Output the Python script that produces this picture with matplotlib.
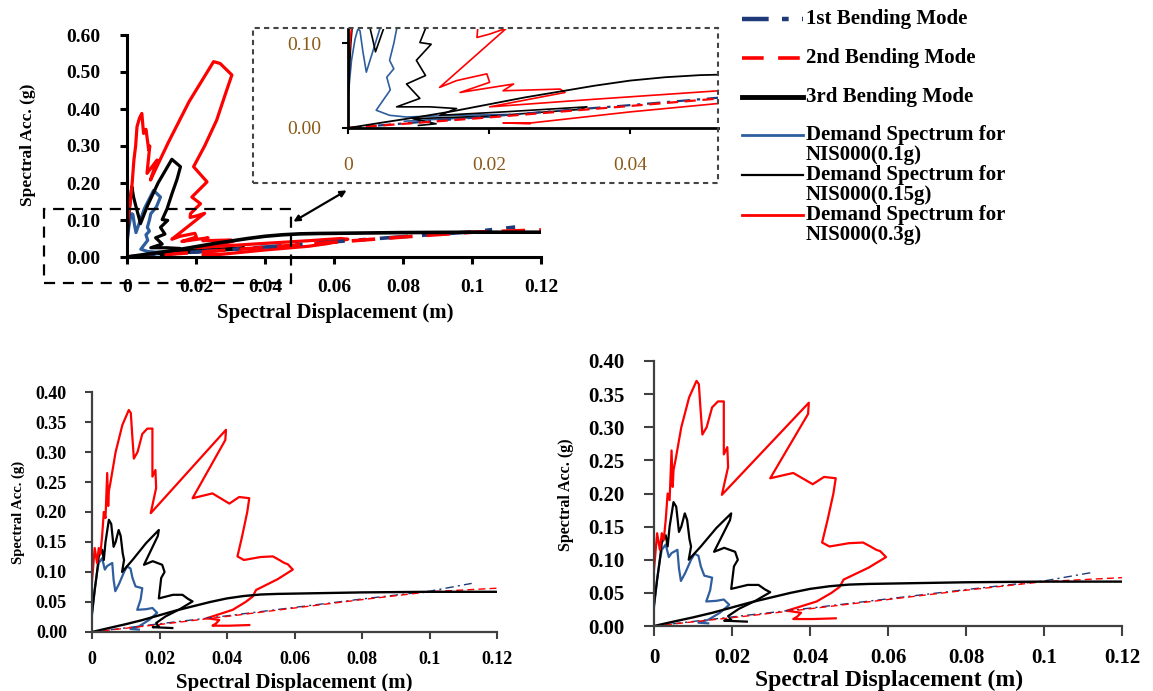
import matplotlib
matplotlib.use('Agg')
import matplotlib.pyplot as plt
from matplotlib.patches import Rectangle, FancyArrowPatch
from matplotlib.lines import Line2D

# ---------------- data ----------------
# capacity curves (bending modes), shared by all panels
mode1_sd = [0, 0.02, 0.04, 0.06, 0.08, 0.10, 0.1125]
mode1_sa = [0, 0.0137, 0.027, 0.041, 0.055, 0.068, 0.081]
mode2_sd = [0, 0.02, 0.04, 0.06, 0.08, 0.10, 0.12]
mode2_sa = [0, 0.0125, 0.026, 0.040, 0.054, 0.067, 0.073]
mode3_sd = [0, 0.005, 0.01, 0.015, 0.02, 0.025, 0.03, 0.035, 0.04, 0.045, 0.05, 0.055,
            0.06, 0.08, 0.10, 0.12]
mode3_sa = [0, 0.0066, 0.013, 0.020, 0.028, 0.036, 0.043, 0.050, 0.056, 0.060, 0.0625,
            0.0635, 0.064, 0.066, 0.067, 0.067]

# top panel demand spectra
top_red_sd = [0, 0.0005, 0.001, 0.0015, 0.002, 0.0025, 0.0029, 0.0036, 0.0043, 0.0048,
              0.0055, 0.0063, 0.0066, 0.0058, 0.0087, 0.0068, 0.012, 0.018, 0.0251, 0.027,
              0.0304, 0.0285, 0.026, 0.0225, 0.0193, 0.0232, 0.0188, 0.0213, 0.0184, 0.0183,
              0.0201, 0.0225, 0.013, 0.0154, 0.0197, 0.0201, 0.0159, 0.0235, 0.022, 0.0301,
              0.0308, 0.0201, 0.035, 0.0526, 0.062, 0.064, 0.058, 0.0526, 0.04, 0.026,
              0.022, 0.0258]
top_red_sa = [0.072, 0.12, 0.153, 0.20, 0.262, 0.30, 0.352, 0.375, 0.388, 0.334,
              0.345, 0.289, 0.30, 0.226, 0.262, 0.208, 0.31, 0.42, 0.528, 0.523,
              0.492, 0.44, 0.37, 0.30, 0.244, 0.203, 0.162, 0.144, 0.117, 0.107,
              0.111, 0.118, 0.048, 0.056, 0.064, 0.054, 0.042, 0.052, 0.044, 0.046,
              0.042, 0.025, 0.034, 0.044, 0.050, 0.048, 0.036, 0.029, 0.019, 0.006,
              0.006, 0.005]
top_black_sd = [0, 0.0004, 0.001, 0.0014, 0.0019, 0.0025, 0.0029, 0.0035, 0.0039, 0.006,
                0.009, 0.013, 0.0155, 0.0145, 0.013, 0.0116, 0.0102, 0.0118, 0.0097, 0.011,
                0.0083, 0.0102, 0.0069, 0.0116, 0.0154, 0.013, 0.022, 0.0339, 0.033, 0.02,
                0.0092, 0.0125, 0.01]
top_black_sa = [0.036, 0.10, 0.16, 0.19, 0.162, 0.14, 0.126, 0.105, 0.09, 0.14,
                0.20, 0.264, 0.244, 0.21, 0.17, 0.13, 0.101, 0.099, 0.080, 0.062,
                0.052, 0.035, 0.025, 0.025, 0.023, 0.015, 0.019, 0.025, 0.022, 0.014,
                0.011, 0.005, 0.003]
top_blue_sd = [0, 0.0005, 0.001, 0.0014, 0.0017, 0.0021, 0.0026, 0.0035, 0.005, 0.0077,
               0.0097, 0.0085, 0.0069, 0.0065, 0.0059, 0.0065, 0.0055, 0.006, 0.005, 0.004,
               0.0059, 0.0083, 0.015, 0.0225, 0.02, 0.012, 0.008]
top_blue_sa = [0.036, 0.08, 0.105, 0.117, 0.115, 0.091, 0.066, 0.09, 0.13, 0.18,
               0.162, 0.135, 0.117, 0.10, 0.08, 0.07, 0.06, 0.045, 0.033, 0.021,
               0.015, 0.013, 0.015, 0.016, 0.013, 0.010, 0.008]

# bottom panels demand spectra
bot_red_sd = [0, 0.0008, 0.0015, 0.002, 0.0025, 0.003, 0.0035, 0.004, 0.0045, 0.0048,
              0.005, 0.0055, 0.007, 0.009, 0.0109, 0.0115, 0.0119, 0.0124, 0.0135, 0.0149,
              0.0164, 0.0179, 0.0179, 0.0188, 0.019, 0.0174, 0.0397, 0.0395, 0.0298, 0.0357,
              0.0407, 0.0436, 0.0466, 0.046, 0.0445, 0.0431, 0.045, 0.05, 0.0536, 0.0555,
              0.057, 0.058, 0.0595, 0.055, 0.0486, 0.0476, 0.0455, 0.0417, 0.0357, 0.034,
              0.0377, 0.0367, 0.0357, 0.0407, 0.0466]
bot_red_sa = [0.085, 0.14, 0.115, 0.14, 0.13, 0.16, 0.20, 0.19, 0.265, 0.21,
              0.235, 0.25, 0.30, 0.345, 0.370, 0.365, 0.33, 0.289, 0.30, 0.33,
              0.339, 0.339, 0.259, 0.27, 0.24, 0.198, 0.337, 0.32, 0.223, 0.231,
              0.214, 0.225, 0.223, 0.20, 0.16, 0.126, 0.12, 0.125, 0.126, 0.12,
              0.115, 0.113, 0.104, 0.088, 0.070, 0.059, 0.05, 0.037, 0.026, 0.023,
              0.020, 0.014, 0.0105, 0.0105, 0.0116]
bot_black_sd = [0, 0.0008, 0.0015, 0.002, 0.003, 0.0035, 0.004, 0.005, 0.0057, 0.0064,
                0.007, 0.0079, 0.0085, 0.0091, 0.0095, 0.0089, 0.012, 0.016, 0.0198, 0.0195,
                0.0154, 0.018, 0.0208, 0.0215, 0.0205, 0.0198, 0.024, 0.0268, 0.0285, 0.0298,
                0.026, 0.0218, 0.019, 0.0198, 0.018, 0.0238]
bot_black_sa = [0.032, 0.07, 0.10, 0.126, 0.137, 0.12, 0.15, 0.187, 0.18, 0.142,
                0.15, 0.170, 0.16, 0.131, 0.12, 0.10, 0.12, 0.148, 0.170, 0.16,
                0.112, 0.118, 0.112, 0.10, 0.09, 0.056, 0.062, 0.062, 0.055, 0.051,
                0.038, 0.026, 0.015, 0.0094, 0.008, 0.0066]
bot_blue_sd = [0, 0.0008, 0.0015, 0.002, 0.003, 0.0038, 0.0045, 0.006, 0.0064, 0.0069,
               0.008, 0.0095, 0.0104, 0.0114, 0.012, 0.0129, 0.0149, 0.0144, 0.0134, 0.016,
               0.0179, 0.0193, 0.0169, 0.0139, 0.0114, 0.0139]
bot_blue_sa = [0.029, 0.07, 0.10, 0.115, 0.123, 0.104, 0.11, 0.115, 0.087, 0.068,
               0.08, 0.10, 0.109, 0.106, 0.09, 0.076, 0.073, 0.054, 0.037, 0.038,
               0.040, 0.032, 0.020, 0.0094, 0.005, 0.004]

legend_labels = ["1st Bending Mode", "2nd Bending Mode", "3rd Bending Mode",
                 "Demand Spectrum for\nNIS000(0.1g)", "Demand Spectrum for\nNIS000(0.15g)",
                 "Demand Spectrum for\nNIS000(0.3g)"]
x_ticks = [0, 0.02, 0.04, 0.06, 0.08, 0.10, 0.12]
x_tick_labels = ["0", "0.02", "0.04", "0.06", "0.08", "0.1", "0.12"]
top_y_ticks = [0, 0.1, 0.2, 0.3, 0.4, 0.5, 0.6]
bot_y_ticks = [0, 0.05, 0.10, 0.15, 0.20, 0.25, 0.30, 0.35, 0.40]
inset_x_ticks = [0, 0.02, 0.04]
inset_x_labels = ["0", "0.02", "0.04"]
inset_y_ticks = [0, 0.10]
xlabel = "Spectral Displacement (m)"
ylabel = "Spectral Acc. (g)"

# ---------------- styling ----------------
W, H = 1153, 691
SERIF = 'Liberation Serif'
BLUE = '#2F5E9E'
NAVY = '#1F3A78'
RED = '#FF0000'
DASHDOT = (0, (6, 3, 1.5, 3))
DASHED = (0, (5, 3))

fig = plt.figure(figsize=(W / 100, H / 100), dpi=100)


def fx(px):
    return px / W


def fy(py):
    return 1 - py / H


def rect(l, t, r, b):
    return [fx(l), fy(b), (r - l) / W, (b - t) / H]


def draw(ax, dem, lw_d, lw_m3, lw_m12, ms=1.0):
    for sd, sa, c in dem:
        ax.plot(sd, sa, color=c, lw=lw_d, solid_joinstyle='round')
    ax.plot(mode1_sd, mode1_sa, color=NAVY, lw=lw_m12,
            ls=(0, tuple(v * ms for v in DASHDOT[1])))
    ax.plot(mode2_sd, mode2_sa, color=RED, lw=lw_m12,
            ls=(0, tuple(v * ms for v in DASHED[1])))
    ax.plot(mode3_sd, mode3_sa, color='black', lw=lw_m3)


def style(ax, spine_c, spine_lw, tlen, tw, xpad, ypad):
    for s in ['top', 'right']:
        ax.spines[s].set_visible(False)
    for s in ['left', 'bottom']:
        ax.spines[s].set_color(spine_c)
        ax.spines[s].set_linewidth(spine_lw)
    ax.tick_params(direction='out', length=tlen, width=tw, color=spine_c)
    ax.tick_params(axis='x', pad=xpad)
    ax.tick_params(axis='y', pad=ypad)


top_dem = [(top_blue_sd, top_blue_sa, BLUE), (top_black_sd, top_black_sa, 'black'),
           (top_red_sd, top_red_sa, RED)]
bot_dem = [(bot_blue_sd, bot_blue_sa, BLUE), (bot_black_sd, bot_black_sa, 'black'),
           (bot_red_sd, bot_red_sa, RED)]

tickfont = dict(fontfamily=SERIF, fontweight='bold')

# ---- top main panel ----
ax1 = fig.add_axes(rect(127, 35, 541, 257))
draw(ax1, top_dem, 2.3, 2.6, 2.6, ms=1.3)
ax1.set_xlim(0, 0.12)
ax1.set_ylim(0, 0.6)
style(ax1, 'black', 2.2, 5, 2.2, 11, 14)
ax1.set_xticks(x_ticks, x_tick_labels, fontsize=14, **tickfont)
ax1.set_yticks(top_y_ticks, [f"{v:.2f}" for v in top_y_ticks], fontsize=14, **tickfont)
ax1.set_xlabel(xlabel, fontsize=15, va='center', **tickfont)
ax1.xaxis.set_label_coords((335 - 127) / 414, (257 - 313) / 222)
ax1.set_ylabel(ylabel, fontsize=12.5, va='center', **tickfont)
ax1.yaxis.set_label_coords((28 - 127) / 414, (257 - 145) / 222)

# ---- inset ----
ax_in = fig.add_axes(rect(348, 29, 718, 128))
draw(ax_in, top_dem, 1.2, 1.3, 1.6)
ax_in.set_xlim(0, 0.0525)
ax_in.set_ylim(0, 0.117)
style(ax_in, 'black', 2.0, 4, 1.5, 17, 15)
ax_in.set_xticks(inset_x_ticks, inset_x_labels, fontsize=14, fontfamily=SERIF, color='#8A5A16')
ax_in.set_yticks(inset_y_ticks, [f"{v:.2f}" for v in inset_y_ticks], fontsize=14,
                 fontfamily=SERIF, color='#8A5A16')

# ---- bottom-left ----
ax2 = fig.add_axes(rect(92, 392, 497, 632))
draw(ax2, bot_dem, 1.6, 1.7, 1.0)
ax2.set_xlim(0, 0.12)
ax2.set_ylim(0, 0.4)
style(ax2, '#404040', 1.6, 5, 1.5, 9, 13)
ax2.set_xticks(x_ticks, x_tick_labels, fontsize=13, **tickfont)
ax2.set_yticks(bot_y_ticks, [f"{v:.2f}" for v in bot_y_ticks], fontsize=13, **tickfont)
ax2.set_xlabel(xlabel, fontsize=15, va='center', **tickfont)
ax2.xaxis.set_label_coords((294 - 92) / 405, (632 - 683) / 240)
ax2.set_ylabel(ylabel, fontsize=10.5, va='center', **tickfont)
ax2.yaxis.set_label_coords((18 - 92) / 405, (632 - 512) / 240)

# ---- bottom-right ----
ax3 = fig.add_axes(rect(654, 361, 1122, 626))
draw(ax3, bot_dem, 1.6, 1.7, 1.0)
ax3.set_xlim(0, 0.12)
ax3.set_ylim(0, 0.4)
style(ax3, '#404040', 1.6, 7, 1.5, 9, 14)
ax3.set_xticks(x_ticks, x_tick_labels, fontsize=15, **tickfont)
ax3.set_yticks(bot_y_ticks, [f"{v:.2f}" for v in bot_y_ticks], fontsize=15, **tickfont)
ax3.set_xlabel(xlabel, fontsize=17, va='center', **tickfont)
ax3.xaxis.set_label_coords((889 - 654) / 468, (626 - 680) / 265)
ax3.set_ylabel(ylabel, fontsize=11.5, va='center', **tickfont)
ax3.yaxis.set_label_coords((566 - 654) / 468, (626 - 495) / 265)

# ---- dashed boxes and arrow ----
fig.add_artist(Rectangle((fx(44), fy(283)), (291 - 44) / W, (283 - 209) / H,
                         transform=fig.transFigure, fill=False, ec='black', lw=1.6,
                         ls=(0, (5, 3.5)), zorder=5))
fig.add_artist(Rectangle((fx(253), fy(183)), (718 - 253) / W, (183 - 28) / H,
                         transform=fig.transFigure, fill=False, ec='#444444', lw=1.5,
                         ls=(0, (2.5, 2)), zorder=5))
fig.add_artist(FancyArrowPatch((fx(291), fy(223)), (fx(349), fy(189)),
                               transform=fig.transFigure, arrowstyle='<|-|>',
                               mutation_scale=9, lw=1.6, color='black', zorder=6))

# ---- legend (drawn manually to match layout) ----
leg_styles = [dict(color=NAVY, lw=3.2, ls=DASHDOT),
              dict(color=RED, lw=2.6, ls=(0, (6, 4))),
              dict(color='black', lw=3.5, ls='-'),
              dict(color=BLUE, lw=2.0, ls='-'),
              dict(color='black', lw=1.6, ls='-'),
              dict(color=RED, lw=2.0, ls='-')]
leg_y = [19, 58, 97, 135, 175, 215]
for lab, st, y in zip(legend_labels, leg_styles, leg_y):
    fig.add_artist(Line2D([fx(742), fx(803)], [fy(y), fy(y)], transform=fig.transFigure, **st))
    for i, line in enumerate(lab.split("\n")):
        fig.text(fx(806), fy(y + 20 * i), line, ha='left', va='center', fontsize=15,
                 fontfamily=SERIF, fontweight='bold')

fig.savefig('out.png', dpi=100)
